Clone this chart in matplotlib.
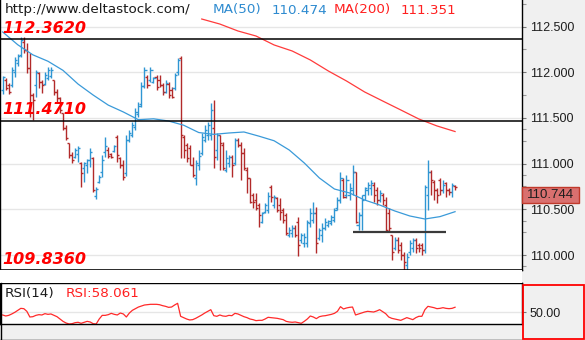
import numpy as np
import matplotlib
matplotlib.use('Agg')
import matplotlib.pyplot as plt
import matplotlib.transforms as mtransforms
from matplotlib.patches import Rectangle
from matplotlib.lines import Line2D
from matplotlib.ticker import FixedLocator, FormatStrFormatter

# USD/JPY bars, oldest first
opens = [
    111.81, 111.92, 111.86, 111.86, 112.00, 112.10, 112.19, 112.33, 112.24, 112.05,
    111.75, 111.86, 111.99, 111.89, 111.87, 111.94, 111.96, 111.92, 111.78, 111.72,
    111.55, 111.39, 111.23, 111.09, 111.07, 111.11, 111.01, 110.95, 110.98, 111.04,
    111.06, 110.65, 110.80, 110.91, 111.13, 111.15, 111.10, 111.14, 111.29, 111.06,
    110.98, 110.90, 111.26, 111.31, 111.40, 111.54, 111.65, 111.85, 111.95, 111.92,
    111.89, 111.95, 111.92, 111.86, 111.78, 111.87, 111.81, 111.83, 112.00, 112.16,
    111.29, 111.20, 111.17, 110.99, 110.84, 110.99, 111.12, 111.26, 111.31, 111.31,
    111.39, 111.15, 111.31, 111.20, 110.93, 111.01, 111.07, 111.01, 111.26, 111.20,
    111.12, 110.93, 110.84, 110.66, 110.60, 110.55, 110.36, 110.47, 110.49, 110.74,
    110.55, 110.62, 110.55, 110.49, 110.44, 110.22, 110.24, 110.30, 110.36, 110.16,
    110.13, 110.13, 110.35, 110.38, 110.46, 110.19, 110.22, 110.30, 110.33, 110.35,
    110.38, 110.51, 110.60, 110.82, 110.66, 110.66, 110.71, 110.91, 110.33, 110.44,
    110.66, 110.71, 110.73, 110.77, 110.71, 110.60, 110.66, 110.55, 110.46, 110.22,
    110.08, 110.16, 110.11, 110.00, 109.89, 110.03, 110.08, 110.16, 110.11, 110.11,
    110.06, 110.66, 110.91, 110.80, 110.71, 110.82, 110.71, 110.79, 110.71, 110.69,
    110.76,
]
highs = [
    111.96, 111.94, 111.88, 112.06, 112.17, 112.20, 112.39, 112.39, 112.32, 112.21,
    111.77, 112.02, 112.00, 111.92, 112.00, 112.06, 112.06, 111.92, 111.82, 111.73,
    111.55, 111.42, 111.23, 111.13, 111.17, 111.19, 111.02, 111.02, 111.05, 111.17,
    111.07, 110.74, 110.88, 111.09, 111.29, 111.18, 111.12, 111.20, 111.31, 111.07,
    111.04, 111.31, 111.37, 111.46, 111.61, 111.67, 111.89, 112.06, 111.97, 112.06,
    111.95, 111.97, 111.97, 111.88, 111.92, 111.89, 111.84, 111.99, 112.16, 112.18,
    111.31, 111.23, 111.20, 111.07, 111.04, 111.15, 111.33, 111.42, 111.46, 111.66,
    111.70, 111.33, 111.31, 111.24, 111.15, 111.09, 111.09, 111.28, 111.28, 111.24,
    111.17, 110.96, 110.84, 110.68, 110.68, 110.57, 110.47, 110.57, 110.69, 110.77,
    110.66, 110.63, 110.62, 110.51, 110.46, 110.31, 110.33, 110.33, 110.42, 110.24,
    110.24, 110.38, 110.51, 110.58, 110.53, 110.30, 110.35, 110.41, 110.38, 110.44,
    110.51, 110.63, 110.91, 110.84, 110.88, 110.79, 110.99, 110.91, 110.47, 110.66,
    110.74, 110.80, 110.82, 110.80, 110.74, 110.71, 110.68, 110.63, 110.51, 110.22,
    110.20, 110.20, 110.14, 110.03, 110.02, 110.16, 110.19, 110.19, 110.13, 110.13,
    110.77, 111.04, 110.93, 110.82, 110.73, 110.84, 110.82, 110.80, 110.73, 110.79,
    110.77,
]
lows = [
    111.76, 111.81, 111.76, 111.84, 111.95, 112.07, 112.17, 112.21, 111.99, 111.51,
    111.48, 111.73, 111.83, 111.77, 111.86, 111.92, 111.94, 111.75, 111.67, 111.55,
    111.37, 111.26, 111.06, 111.01, 111.06, 111.02, 110.74, 110.80, 110.90, 110.96,
    110.69, 110.61, 110.79, 110.85, 111.07, 111.06, 111.06, 111.13, 111.02, 110.95,
    110.82, 110.86, 111.24, 111.29, 111.37, 111.51, 111.62, 111.83, 111.83, 111.89,
    111.88, 111.81, 111.84, 111.75, 111.77, 111.72, 111.72, 111.81, 111.97, 111.06,
    111.06, 111.02, 110.99, 110.85, 110.77, 110.93, 111.09, 111.24, 111.26, 111.26,
    110.95, 111.04, 110.93, 110.93, 110.91, 110.96, 110.85, 110.99, 111.18, 110.82,
    110.93, 110.68, 110.57, 110.51, 110.49, 110.31, 110.35, 110.46, 110.46, 110.58,
    110.51, 110.47, 110.38, 110.35, 110.22, 110.20, 110.20, 110.20, 109.99, 110.13,
    110.09, 110.09, 110.31, 110.35, 110.02, 110.16, 110.14, 110.27, 110.31, 110.33,
    110.36, 110.49, 110.57, 110.62, 110.62, 110.60, 110.66, 110.35, 110.27, 110.27,
    110.60, 110.66, 110.66, 110.58, 110.55, 110.58, 110.55, 110.25, 110.25, 109.95,
    110.06, 110.02, 109.95, 109.84, 109.84, 110.00, 110.03, 110.02, 110.03, 110.00,
    110.02, 110.49, 110.66, 110.60, 110.57, 110.66, 110.68, 110.63, 110.66, 110.63,
    110.71,
]
closes = [
    111.95, 111.83, 111.78, 112.02, 112.13, 112.18, 112.35, 112.24, 112.05, 111.75,
    111.70, 112.00, 111.89, 111.86, 111.97, 112.02, 112.02, 111.78, 111.72, 111.59,
    111.39, 111.28, 111.09, 111.04, 111.15, 111.17, 110.90, 111.01, 111.04, 111.13,
    110.71, 110.72, 110.85, 111.04, 111.19, 111.08, 111.07, 111.19, 111.09, 110.98,
    110.85, 111.26, 111.34, 111.42, 111.56, 111.63, 111.85, 112.02, 111.86, 112.02,
    111.94, 111.84, 111.86, 111.78, 111.88, 111.75, 111.73, 111.97, 112.13, 111.31,
    111.15, 111.06, 110.99, 110.88, 111.01, 111.08, 111.29, 111.37, 111.42, 111.59,
    111.07, 111.31, 111.23, 110.95, 111.06, 111.07, 110.99, 111.26, 111.20, 111.12,
    110.95, 110.84, 110.58, 110.58, 110.51, 110.44, 110.46, 110.55, 110.65, 110.63,
    110.63, 110.49, 110.47, 110.38, 110.24, 110.27, 110.30, 110.22, 110.11, 110.22,
    110.20, 110.36, 110.46, 110.46, 110.13, 110.27, 110.30, 110.36, 110.37, 110.42,
    110.49, 110.60, 110.84, 110.63, 110.82, 110.73, 110.91, 110.36, 110.44, 110.60,
    110.73, 110.77, 110.79, 110.66, 110.60, 110.68, 110.60, 110.27, 110.30, 110.03,
    110.16, 110.06, 110.00, 109.92, 109.98, 110.13, 110.16, 110.08, 110.08, 110.06,
    110.74, 110.91, 110.82, 110.71, 110.66, 110.71, 110.77, 110.71, 110.69, 110.77,
    110.744,
]

# moving averages, sampled at these bar numbers
ma50_bar = list(range(0, 151, 5))
ma50 = [112.44, 112.30, 112.19, 112.12, 112.02, 111.87, 111.75, 111.64, 111.565, 111.48,
        111.49, 111.466, 111.42, 111.34, 111.32, 111.335, 111.346, 111.30, 111.25, 111.149,
        111.007, 110.843, 110.722, 110.679, 110.602, 110.547, 110.482, 110.427, 110.394,
        110.42, 110.474]
ma200_bar = list(range(66, 151, 6))
ma200 = [112.582, 112.527, 112.451, 112.396, 112.298, 112.232, 112.134, 112.013,
         111.904, 111.784, 111.685, 111.587, 111.488, 111.412, 111.351]

rsi = [
    45.8, 44.2, 45.2, 47.4, 50.0, 53.2, 56.3, 55.8, 51.6, 42.6,
    43.1, 45.2, 46.3, 45.8, 47.9, 46.8, 47.4, 45.2, 43.1, 39.4,
    35.7, 33.1, 31.5, 32.0, 33.6, 34.2, 32.6, 34.2, 35.7, 34.7,
    32.0, 31.5, 39.4, 45.2, 45.2, 46.3, 48.4, 46.8, 45.8, 48.9,
    47.4, 42.6, 48.9, 53.2, 55.8, 58.4, 60.0, 61.6, 62.1, 62.7,
    62.7, 62.7, 62.1, 60.6, 59.5, 57.9, 58.4, 61.6, 64.3, 43.7,
    41.6, 39.4, 37.9, 38.4, 40.5, 43.1, 45.8, 48.9, 51.6, 54.2,
    44.7, 43.7, 45.8, 44.2, 43.7, 45.2, 44.7, 48.4, 47.4, 45.2,
    43.1, 41.6, 39.4, 38.4, 36.8, 37.3, 37.3, 39.4, 42.1, 41.6,
    41.0, 40.5, 39.4, 38.4, 35.7, 34.7, 34.2, 34.7, 33.6, 32.6,
    35.7, 39.4, 44.2, 42.6, 40.0, 43.1, 44.2, 44.7, 45.8, 46.8,
    48.4, 51.6, 59.0, 55.3, 56.9, 57.9, 58.4, 45.8, 47.4, 48.9,
    50.5, 51.6, 51.1, 50.5, 52.1, 54.2, 51.1, 47.9, 42.6, 40.5,
    39.4, 38.4, 37.3, 39.4, 41.6, 40.0, 38.4, 41.6, 43.7, 43.7,
    54.2, 59.5, 58.4, 57.4, 55.8, 56.3, 57.4, 56.3, 55.8, 56.3,
    58.061,
]

levels = [112.362, 111.471, 109.836]
level_labels = ['112.3620', '111.4710', '109.8360']
support_level = 110.255
support_from, support_to = 116, 147

price_ticks = [110.0, 110.5, 111.0, 111.5, 112.0, 112.5]
price_minor = [109.875, 110.25, 110.375, 110.75, 110.875, 111.25, 111.375, 111.75, 112.25, 112.75]

BLUE = '#2f96d3'
RED = '#b22a2a'
W, H = 585, 340

fig = plt.figure(figsize=(W / 100, H / 100), dpi=100, facecolor='#f0f0f0')


def px_box(x0, y0, x1, y1):
    return [x0 / W, 1 - y1 / H, (x1 - x0) / W, (y1 - y0) / H]


ax = fig.add_axes(px_box(0, 0, 522, 270))
rsi_ax = fig.add_axes(px_box(0, 283, 522, 324))
xlim = (-0.9, 172.2)
ylim = (109.836, 112.79)

bars = np.arange(len(closes))
o = np.array(opens)
c = np.array(closes)
colors = np.where(c >= o, BLUE, RED)
ax.vlines(bars, lows, highs, colors=colors, lw=1.0)
ax.hlines(opens, bars - 0.7, bars, colors=colors, lw=1.0)
ax.hlines(closes, bars, bars + 0.7, colors=colors, lw=1.0)

ax.plot(ma50_bar, ma50, color='#3a9ad9', lw=0.9)
ax.plot(ma200_bar, ma200, color='#ff3b3b', lw=0.9)

for level, label in zip(levels, level_labels):
    ax.axhline(level, color='black', lw=1.1, zorder=3)
    ax.annotate(label, xy=(0, level), xycoords=('axes fraction', 'data'),
                xytext=(2, 4.5), textcoords='offset points', color='#ff0000',
                fontsize=11.5, fontweight='bold', fontstyle='italic',
                va='baseline', zorder=5)

ax.hlines(support_level, support_from, support_to, color='#3a3a3a', lw=1.6, zorder=4)

ax.set_xlim(xlim)
ax.set_ylim(ylim)
ax.set_facecolor('white')
ax.set_xticks([])
ax.set_yticks(price_ticks)
ax.yaxis.set_major_formatter(FormatStrFormatter('%.3f'))
ax.yaxis.set_minor_locator(FixedLocator(price_minor))
ax.yaxis.tick_right()
ax.tick_params(axis='y', which='major', direction='out', length=3, width=0.8,
               color='#777777', pad=2.5, labelsize=9, labelcolor='#1e1e1e')
ax.tick_params(axis='y', which='minor', direction='out', length=3, width=0.8,
               color='#999999')
for lab in ax.get_yticklabels():
    lab.set_fontfamily('Liberation Sans')
ax.grid(axis='y', color='#e6e6e6', lw=1)
ax.set_axisbelow(True)
ax.spines['top'].set_visible(False)
for side in ['left', 'right', 'bottom']:
    ax.spines[side].set_color('black')
    ax.spines[side].set_linewidth(1)

# last price tag on the axis
last = closes[-1]
tag_h = 16 * (ylim[1] - ylim[0]) / 270
trans = mtransforms.blended_transform_factory(ax.transAxes, ax.transData)
ax.add_patch(Rectangle((1.0, last - tag_h), 57 / 522, tag_h, transform=trans,
                       facecolor='#d9706f', edgecolor='#c0392b', lw=1,
                       clip_on=False, zorder=6))
ax.text(1.0 + 28.5 / 522, last - tag_h / 2, f'{last:.3f}', transform=trans,
        ha='center', va='center', fontsize=9.5, family='Liberation Sans',
        color='#1e1e1e', zorder=7, clip_on=False)

# RSI panel
rsi_ax.plot(bars, rsi, color='#ff2a2a', lw=0.9)
rsi_ax.set_xlim(xlim)
rsi_ax.set_ylim(31.5, 96.5)
rsi_ax.set_xticks([])
rsi_ax.set_yticks([50])
rsi_ax.yaxis.set_major_formatter(FormatStrFormatter('%.2f'))
rsi_ax.yaxis.tick_right()
rsi_ax.tick_params(axis='y', direction='out', length=3, width=0.8, color='#777777',
                   pad=2.5, labelsize=9, labelcolor='#1e1e1e')
for lab in rsi_ax.get_yticklabels():
    lab.set_fontfamily('Liberation Sans')
rsi_ax.grid(axis='y', color='#e6e6e6', lw=1)
rsi_ax.set_axisbelow(True)
for side in rsi_ax.spines:
    rsi_ax.spines[side].set_color('black')
    rsi_ax.spines[side].set_linewidth(1)

# headers
fig.text(5 / W, 1 - 13.5 / H, 'http://www.deltastock.com/', fontsize=9.7,
         color='#1a1a1a', va='baseline')
fig.text(213 / W, 1 - 13.5 / H, 'MA(50)', fontsize=9.7, color='#2e8bd0', va='baseline')
fig.text(272 / W, 1 - 13.5 / H, f'{ma50[-1]:.3f}', fontsize=9.7, color='#2e8bd0', va='baseline')
fig.text(334 / W, 1 - 13.5 / H, 'MA(200)', fontsize=9.7, color='#ff2020', va='baseline')
fig.text(401 / W, 1 - 13.5 / H, f'{ma200[-1]:.3f}', fontsize=9.7, color='#ff2020', va='baseline')
fig.text(5 / W, 1 - 297 / H, 'RSI(14)', fontsize=9.7, color='#1a1a1a', va='baseline')
fig.text(66 / W, 1 - 297 / H, f'RSI:{rsi[-1]:.3f}', fontsize=9.7, color='#ff2020', va='baseline')

# white gap between panels and frame lines
fig.add_artist(Rectangle((0, 1 - 283 / H), 522 / W, 13 / H, transform=fig.transFigure,
                         facecolor='white', edgecolor='none', zorder=0.5))
fig.add_artist(Line2D([0, 522 / W], [0.5 / H, 0.5 / H], transform=fig.transFigure,
                      color='black', lw=1))
fig.add_artist(Line2D([0.5 / W, 0.5 / W], [0, 1 - 283 / H], transform=fig.transFigure,
                      color='black', lw=1))
fig.add_artist(Rectangle((522.5 / W, 1.5 / H), 61.5 / W, 54 / H, transform=fig.transFigure,
                         fill=False, edgecolor='#ff0000', lw=1.3, zorder=5))

fig.savefig('out.png', dpi=100, facecolor=fig.get_facecolor())
